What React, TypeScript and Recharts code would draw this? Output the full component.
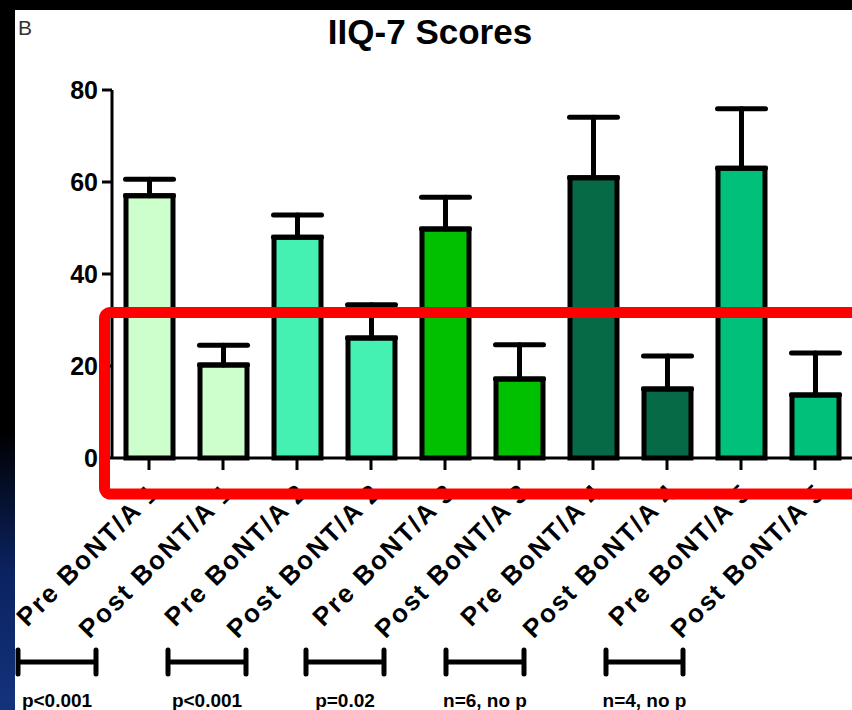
import React from 'react';
import { BarChart, Bar, XAxis, YAxis, ErrorBar, Cell } from 'recharts';

const categories = [
  'Pre BoNT/A 1', 'Post BoNT/A 1',
  'Pre BoNT/A 2', 'Post BoNT/A 2',
  'Pre BoNT/A 3', 'Post BoNT/A 3',
  'Pre BoNT/A 4', 'Post BoNT/A 4',
  'Pre BoNT/A 5', 'Post BoNT/A 5',
];
const means = [57, 20.2, 48, 26.1, 49.8, 17.2, 60.9, 15, 63, 13.7];
const sem = [3.6, 4.3, 4.8, 7.2, 6.9, 7.4, 13.2, 7.2, 12.9, 9.1];
const barColors = [
  '#CCFFCC', '#CCFFCC',
  '#44F0B2', '#44F0B2',
  '#00C000', '#00C000',
  '#056A45', '#056A45',
  '#00C07A', '#00C07A',
];
const yTicks = [0, 20, 40, 60, 80];
const comparisons = ['p<0.001', 'p<0.001', 'p=0.02', 'n=6, no p', 'n=4, no p'];

const data = categories.map((c, i) => ({ name: c, mean: means[i], err: [0, sem[i]] }));

const FONT = '"Liberation Sans", Arial, Helvetica, sans-serif';

// bracket geometry (annotation layout)
const bracketX: [number, number][] = [[18, 96], [168, 246], [306, 384], [446, 524], [606, 683]];

const XTick = (props: any) => {
  const { x, y, payload } = props;
  return (
    <g transform={`translate(${x + 12},${y + 22})`}>
      <text
        x={0}
        y={0}
        textAnchor="end"
        transform="rotate(-45)"
        fontSize={26}
        fontWeight="bold"
        fontFamily={FONT}
        letterSpacing={2}
        fill="#000"
      >
        {payload.value}
      </text>
    </g>
  );
};

export default function App() {
  return (
    <div
      style={{
        position: 'absolute',
        left: 0,
        top: 0,
        width: 852,
        height: 710,
        overflow: 'hidden',
        background: '#000',
      }}
    >
      <div
        style={{
          position: 'absolute',
          left: 0,
          top: 0,
          width: 15,
          height: 710,
          background: 'linear-gradient(to bottom, #000 0px, #000 430px, #0b2260 570px, #13337c 710px)',
        }}
      />
      <div style={{ position: 'absolute', left: 15, top: 10, width: 837, height: 700, background: '#fff' }} />
      <div style={{ position: 'absolute', left: 0, top: 0 }}>
        <BarChart
          width={852}
          height={710}
          data={data}
          margin={{ top: 90, right: 0, bottom: 0, left: 0 }}
          barSize={47}
        >
          <YAxis
            width={112}
            domain={[0, 80]}
            ticks={yTicks}
            interval={0}
            axisLine={{ stroke: '#000', strokeWidth: 3 }}
            tickLine={{ stroke: '#000', strokeWidth: 3 }}
            tickSize={10}
            tickMargin={4}
            tick={{ fill: '#000', fontSize: 25, fontWeight: 'bold', fontFamily: FONT }}
          />
          <XAxis
            dataKey="name"
            height={252}
            interval={0}
            axisLine={{ stroke: '#000', strokeWidth: 3 }}
            tickLine={{ stroke: '#000', strokeWidth: 3 }}
            tickSize={12}
            tick={<XTick />}
          />
          <Bar dataKey="mean" stroke="#000" strokeWidth={5} isAnimationActive={false}>
            {data.map((d, i) => (
              <Cell key={d.name} fill={barColors[i]} />
            ))}
            <ErrorBar dataKey="err" direction="y" width={24} stroke="#000" strokeWidth={5} strokeLinecap="round" />
          </Bar>
        </BarChart>
      </div>
      <svg
        width={852}
        height={710}
        style={{ position: 'absolute', left: 0, top: 0, pointerEvents: 'none' }}
      >
        <text x={18} y={35} fontSize={21} fontFamily={FONT} fill="#333">B</text>
        <text x={430} y={44} textAnchor="middle" fontSize={35} fontWeight="bold" fontFamily={FONT} fill="#000">
          IIQ-7 Scores
        </text>
        <rect x={104.5} y={312.5} width={900} height={181.5} rx={6} fill="none" stroke="#FF0000" strokeWidth={11} />
        {comparisons.map((c, i) => {
          const [x1, x2] = bracketX[i];
          return (
            <g key={i}>
              <line x1={x1} y1={662} x2={x2} y2={662} stroke="#000" strokeWidth={5} />
              <line x1={x1} y1={650} x2={x1} y2={674} stroke="#000" strokeWidth={5} strokeLinecap="round" />
              <line x1={x2} y1={650} x2={x2} y2={674} stroke="#000" strokeWidth={5} strokeLinecap="round" />
              <text
                x={(x1 + x2) / 2}
                y={707}
                textAnchor="middle"
                fontSize={19}
                fontWeight="bold"
                fontFamily={FONT}
                fill="#000"
              >
                {c}
              </text>
            </g>
          );
        })}
      </svg>
    </div>
  );
}
